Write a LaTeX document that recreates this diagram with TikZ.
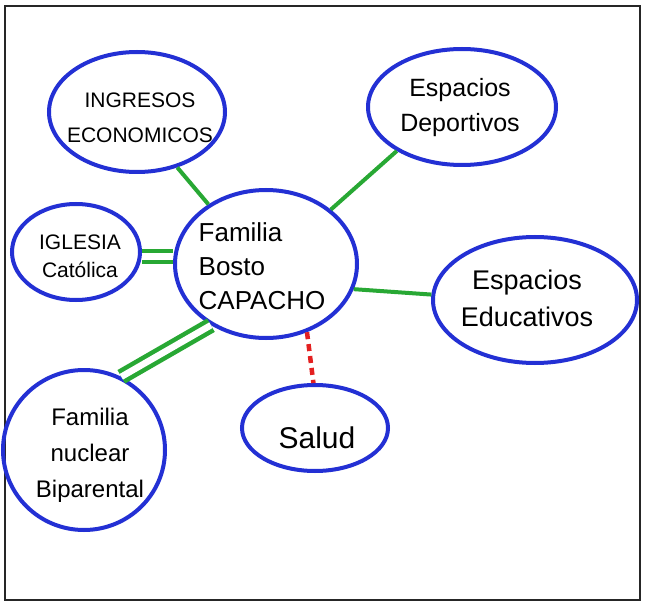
\documentclass[tikz,border=0pt]{standalone}
\usepackage{fontspec}
\setmainfont{Liberation Sans}
\usetikzlibrary{shapes.geometric}
\definecolor{penblue}{RGB}{35,48,212}
\definecolor{pengreen}{RGB}{40,168,52}
\definecolor{penred}{RGB}{228,32,32}
\tikzset{
  bubble/.style={ellipse, draw=penblue, line width=4pt, inner sep=0pt},
  lbl/.style={align=center, text=black, inner sep=0pt},
  tie/.style={draw=pengreen, line width=4pt},
  strongtie/.style={draw=pengreen, line width=4.5pt, double=white, double distance=6.5pt},
  weaktie/.style={draw=penred, line width=4.5pt, dash pattern=on 7pt off 5pt},
}
\begin{document}
\begin{tikzpicture}[x=1pt,y=-1pt]
\useasboundingbox (0,0) rectangle (645,604);
\fill[white] (0,0) rectangle (645,604);
\draw[black!85, line width=1.5pt] (5,6) rectangle (640,600);

\node[bubble, minimum width=176pt, minimum height=120pt] (ing) at (137,112) {};
\node[bubble, minimum width=188pt, minimum height=116pt] (dep) at (462,107) {};
\node[bubble, minimum width=128pt, minimum height=96pt] (igl) at (76,252) {};
\node[bubble, minimum width=182pt, minimum height=148pt] (fam) at (266,264) {};
\node[bubble, minimum width=204pt, minimum height=126pt] (edu) at (535,300) {};
\node[bubble, minimum width=162pt, minimum height=160pt] (nuc) at (84,450) {};
\node[bubble, minimum width=146pt, minimum height=86pt] (sal) at (315,428) {};

\node[lbl, font=\fontsize{21}{35}\selectfont] (ingt) at (140,118) {INGRESOS\\ECONOMICOS};
\node[lbl, font=\fontsize{25}{35}\selectfont] (dept) at (460,108) {Espacios\\Deportivos};
\node[lbl, font=\fontsize{21}{28}\selectfont] (iglt) at (80,256) {IGLESIA\\Católica};
\node[lbl, align=left, font=\fontsize{26}{34}\selectfont] (famt) at (262,266) {Familia\\Bosto\\CAPACHO};
\node[lbl, font=\fontsize{27}{37}\selectfont] (edut) at (527,298) {Espacios\\Educativos};
\node[lbl, font=\fontsize{24}{36}\selectfont] (nuct) at (90,455) {Familia\\nuclear\\Biparental};
\node[lbl, font=\fontsize{30}{36}\selectfont] (salt) at (317,438) {Salud};

\draw[tie] (ing.306) -- (fam.134);
\draw[tie] (dep.214) -- (fam.40);
\draw[tie] (edu.177) -- (fam.344);
\draw[strongtie] (igl.-4) -- (fam.west |- igl.-4);
\draw[strongtie] (nuc.63) -- (fam.228);
\draw[weaktie] (fam.301) -- (sal.92);
\end{tikzpicture}
\end{document}
